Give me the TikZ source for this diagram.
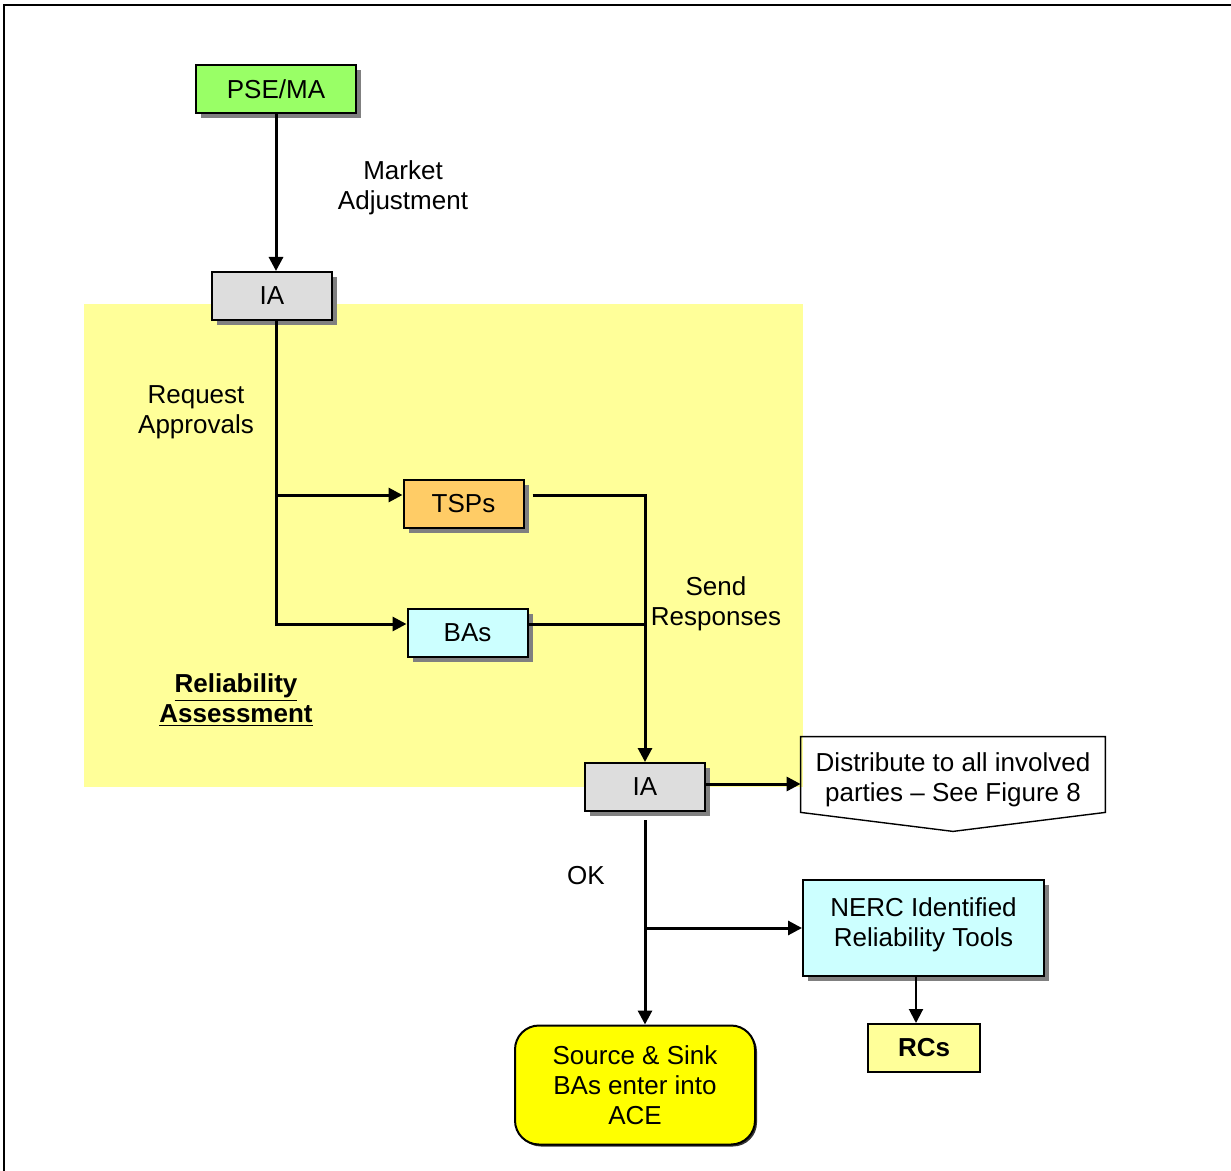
\documentclass[tikz,border=0pt]{standalone}
\usepackage{fontspec}
\setmainfont{Liberation Sans}
\usetikzlibrary{positioning,calc,shadows,arrows.meta}

\definecolor{psegreen}{RGB}{153,255,102}
\definecolor{iagray}{RGB}{221,221,221}
\definecolor{tsporange}{RGB}{255,204,102}
\definecolor{bacyan}{RGB}{204,255,255}
\definecolor{relyellow}{RGB}{255,255,153}
\definecolor{aceyellow}{RGB}{255,255,0}

\newcommand{\diagfont}{\fontsize{13}{15}\selectfont}

\tikzset{
	box/.style={draw=black, line width=1pt, minimum width=60pt, minimum height=24pt, inner sep=2pt, align=center},
	shade/.style={drop shadow={shadow xshift=2.5pt, shadow yshift=-2.5pt, fill=black!50, opacity=1}},
	flow/.style={line width=1.5pt, -{Triangle[length=7pt,width=7pt]}},
	link/.style={line width=1.5pt},
	lbl/.style={align=center}
}

\begin{document}
\begin{tikzpicture}[x=0.5pt,y=-0.5pt,font=\diagfont]
	\useasboundingbox (0,0) rectangle (1231,1171);
	\draw[line width=1pt] (4,1171) -- (4,5) -- (1231,5);
	\fill[relyellow] (84,304) rectangle (803,787);
	
	\node[box, shade, fill=psegreen, minimum width=80pt] (pse) at (276,89) {PSE/MA};
	\node[box, shade, fill=iagray] (ia1) at (272,296) {IA};
	\node[box, shade, fill=tsporange] (tsp) at (463.5,504) {TSPs};
	\node[box, shade, fill=bacyan] (ba) at (467.5,633) {BAs};
	\node[box, shade, fill=iagray] (ia2) at (645,787) {IA};
	\node[box, shade, fill=bacyan, minimum width=120.5pt, minimum height=48pt] (nerc) at (923.5,928) {NERC Identified\\Reliability Tools\\[-9pt]};
	\node[box, fill=relyellow, minimum width=56pt, font=\diagfont\bfseries] (rc) at (924,1048) {RCs};
	\node[box, rounded corners=12pt, fill=aceyellow, minimum width=120pt, minimum height=59.5pt, drop shadow={shadow xshift=1pt, shadow yshift=-1pt, fill=black!80, opacity=1}] (ace) at (635,1085) {Source \& Sink\\BAs enter into\\ACE};
	\node[minimum width=152pt, minimum height=37.5pt, inner sep=0pt, align=center] (dist) at (953,779.5) {Distribute to all involved\\parties – See Figure 8};
	\draw[line width=0.7pt] ($(dist.north west)+(0,-5)$) -- ($(dist.north east)+(0,-5)$) -- ($(dist.south east)+(0,-5)$) -- ($(dist.south)+(0,14)$) -- ($(dist.south west)+(0,-5)$) -- cycle;
	
	\node[lbl] (madj) at (403,188) {Market\\Adjustment};
	\node[lbl] (reqap) at (196,412) {Request\\Approvals};
	\node[lbl] (sendr) at (716,604) {Send\\Responses};
	\node[lbl, font=\diagfont\bfseries] (relas) at (236,700) {\underline{Reliability}\\\underline{Assessment}};
	\node (okl) at (586,876) {OK};
	
	\coordinate (tspin) at ($(tsp.west)+(0,-9)$);
	\coordinate (bain) at ($(ba.west)+(0,-9)$);
	\coordinate (tspout) at ($(tsp.east)+(8,-9)$);
	\coordinate (baout) at ($(ba.east)+(0,-9)$);
	\coordinate (iaout) at ($(ia2.east)+(0,-3)$);
	\coordinate (rcin) at ($(rc.north)+(-8,0)$);
	
	\draw[flow] (pse.south) -- (pse.south |- ia1.north);
	\draw[flow] (pse.south |- ia1.south) -- (pse.south |- bain) -- (bain);
	\draw[flow] (pse.south |- tspin) -- (tspin);
	\draw[flow] (tspout) -- (tspout -| ia2.north) -- (ia2.north);
	\draw[link] (baout) -- (baout -| ia2.north);
	\draw[flow] (iaout) -- (iaout -| dist.west);
	\draw[flow] ($(ia2.south)+(0,8)$) -- (ia2.south |- ace.north);
	\draw[flow] (ia2.south |- nerc.west) -- (nerc.west);
	\draw[line width=1pt, -{Triangle[length=7pt,width=7pt]}] (nerc.south -| rcin) -- (rcin);
\end{tikzpicture}
\end{document}
